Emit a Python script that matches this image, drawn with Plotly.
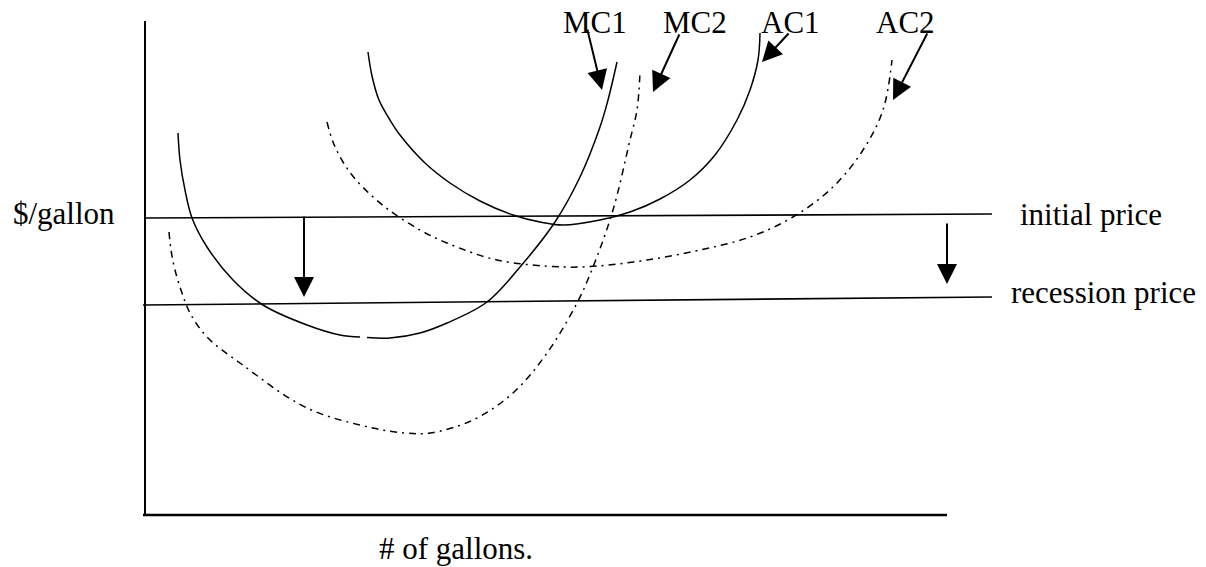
import plotly.graph_objects as go

# ---- data (in picture coordinates: x right, y down) ----
mc1_left_x = [178, 180, 185, 192, 207, 233, 263, 307, 340, 360]
mc1_left_y = [133, 160, 190, 218, 247, 280, 305, 325, 335, 337]
mc1_right_x = [367, 390, 420, 447, 487, 520, 555, 580, 600, 608, 617]
mc1_right_y = [337.5, 338, 333, 323, 302, 267, 222, 177, 127, 100, 62]

ac1_x = [368, 372, 379, 390, 400, 425, 450, 480, 513, 540, 563, 600, 630, 660, 690, 715, 737, 750, 758, 760]
ac1_y = [52, 76, 100, 120, 135, 163, 183, 201, 215, 222, 225, 220, 212, 199, 180, 155, 120, 90, 60, 33]

mc2_x = [169, 171, 175, 182, 190, 207, 240, 307, 373, 405, 430, 473, 513, 547, 577, 593, 613, 630, 637, 640]
mc2_y = [232, 250, 270, 293, 313, 337, 363, 408, 428, 433, 433, 420, 393, 353, 303, 267, 210, 140, 110, 72]

ac2_x = [327, 333, 343, 357, 385, 420, 447, 497, 563, 597, 647, 700, 750, 793, 833, 863, 883, 892]
ac2_y = [122, 142, 162, 181, 207, 230, 243, 260, 267, 266, 260, 250, 237, 217, 187, 150, 110, 60]

price_lines = {
    "initial": ([145, 992], [218, 214]),
    "recession": ([143, 992], [305, 297]),
}
axis_y = ([145, 145], [21, 515])
axis_x = ([143, 947], [515, 515])

# arrows: (start_x, start_y, tip_x, tip_y)
arrows = [
    (304, 215, 304, 297),
    (947, 222, 947, 284),
    (587, 28, 602, 90),
    (680, 33, 653, 92),
    (790, 32, 762, 62),
    (928, 32, 893, 100),
]

labels = ["MC1", "MC2", "AC1", "AC2", "$/gallon", "initial price", "recession price", "# of gallons."]
label_x = [561, 661, 759, 874, 11, 1018, 1009, 377]
label_y = [22, 22, 22, 22, 213, 214, 292, 548]

FONT = "Liberation Serif"
BLACK = "#000000"
DASHDOT = "7px,5px,2px,5px"

fig = go.Figure()

def add_line(xs, ys, width=1.5, dash="solid", shape="spline"):
    fig.add_trace(go.Scatter(x=xs, y=ys, mode="lines",
                             line=dict(color=BLACK, width=width, dash=dash, shape=shape, smoothing=1.0),
                             hoverinfo="skip", showlegend=False))

add_line(*axis_y, width=2, shape="linear")
add_line(*axis_x, width=2.5, shape="linear")
for xs, ys in price_lines.values():
    add_line(xs, ys, width=1.6, shape="linear")

add_line(mc1_left_x, mc1_left_y)
add_line(mc1_right_x, mc1_right_y)
add_line(ac1_x, ac1_y)
add_line(mc2_x, mc2_y, dash=DASHDOT)
add_line(ac2_x, ac2_y, dash=DASHDOT)

for sx, sy, tx, ty in arrows:
    fig.add_annotation(x=tx, y=ty, ax=sx, ay=sy, xref="x", yref="y", axref="x", ayref="y",
                       text="", showarrow=True, arrowhead=2, arrowsize=2, arrowwidth=2,
                       arrowcolor=BLACK, standoff=0, startstandoff=0)

for t, x, y in zip(labels, label_x, label_y):
    fig.add_annotation(x=x, y=y, xref="x", yref="y", text=t, showarrow=False,
                       xanchor="left", yanchor="middle",
                       font=dict(family=FONT, size=31, color=BLACK))

fig.update_xaxes(range=[0, 1206], visible=False, fixedrange=True)
fig.update_yaxes(range=[567, 0], visible=False, fixedrange=True)
fig.update_layout(width=1206, height=567, margin=dict(l=0, r=0, t=0, b=0),
                  paper_bgcolor="white", plot_bgcolor="white", showlegend=False)

fig.write_html("out.html", config={"displayModeBar": False},
               post_script="document.body.style.margin='0';document.body.style.overflow='hidden';")
